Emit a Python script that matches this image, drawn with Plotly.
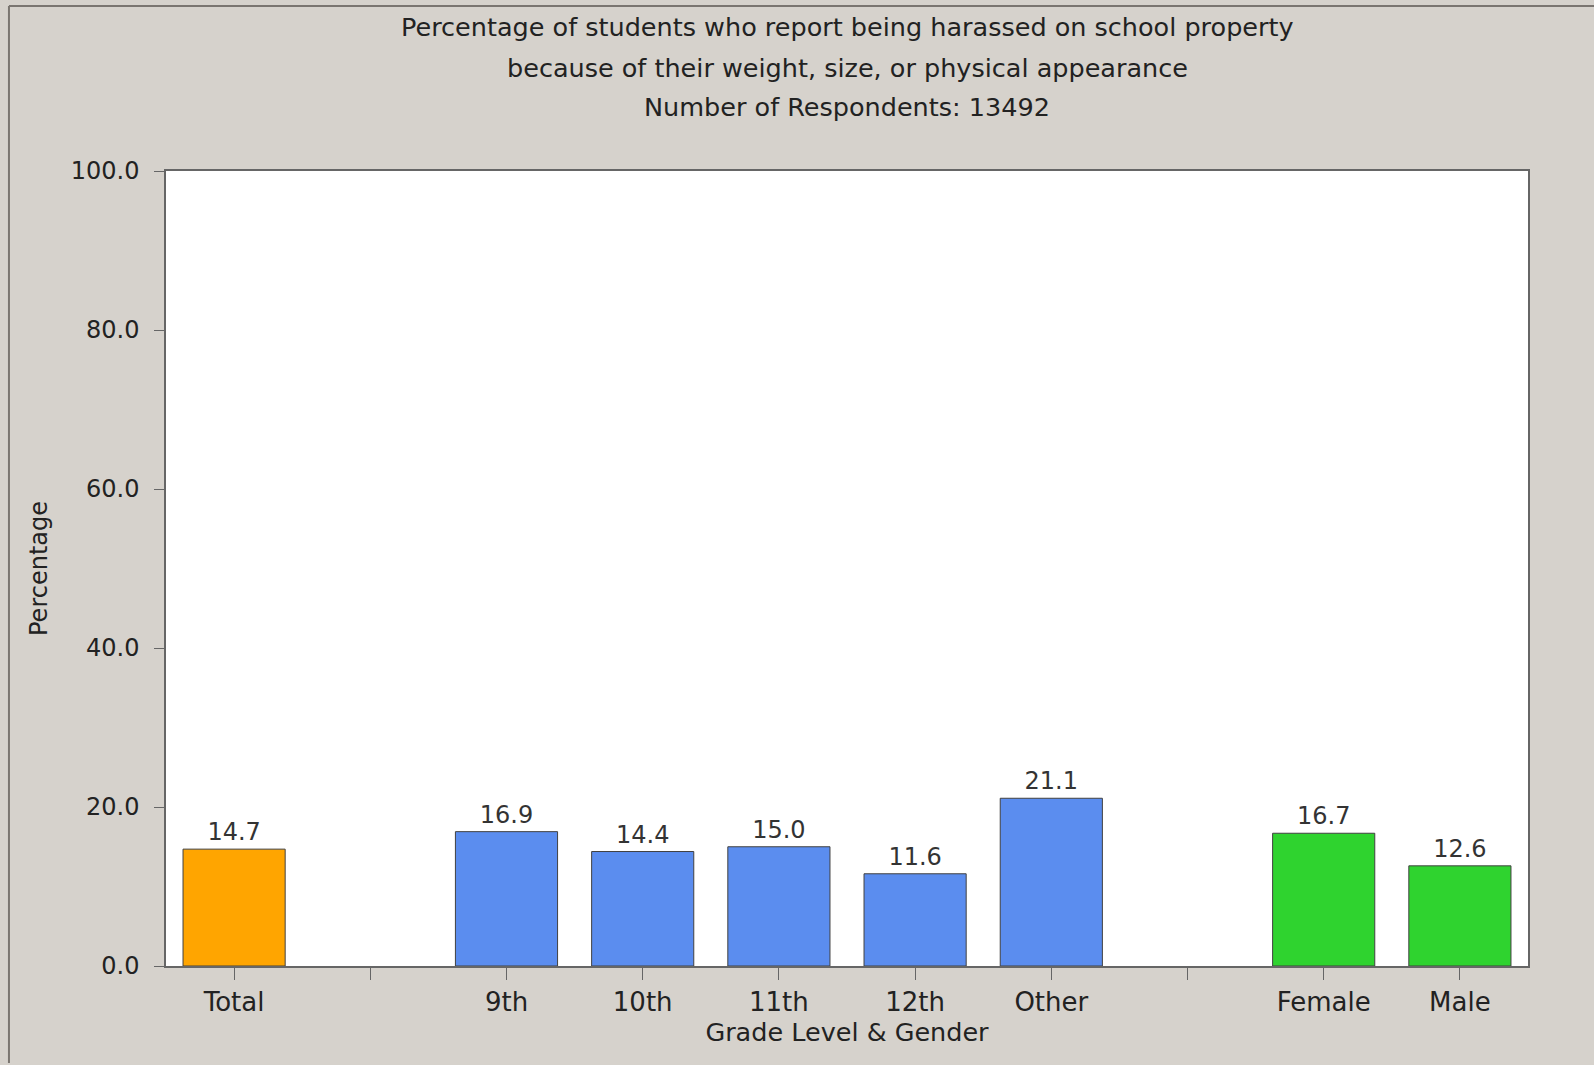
import plotly.graph_objects as go

# Data
slots = ["Total", " ", "9th", "10th", "11th", "12th", "Other", "  ", "Female", "Male"]
values = [14.7, None, 16.9, 14.4, 15.0, 11.6, 21.1, None, 16.7, 12.6]
groups = ["total", None, "grade", "grade", "grade", "grade", "grade", None, "gender", "gender"]
group_colors = {"total": "#FFA500", "grade": "#5B8DEF", "gender": "#2FD32F", None: "rgba(0,0,0,0)"}
y_ticks = [0, 20, 40, 60, 80, 100]

title_lines = [
    "Percentage of students who report being harassed on school property",
    "because of their weight, size, or physical appearance",
    "Number of Respondents: 13492",
]
# vertical placement of title lines, in paper units above the plot area
title_line_y = [1.181, 1.1296, 1.0805]

FONT = "DejaVu Sans, Liberation Sans, Arial, sans-serif"
BG = "#D6D2CC"
TXT = "#222222"

fig = go.Figure(
    go.Bar(
        x=slots,
        y=values,
        marker=dict(color=[group_colors[g] for g in groups],
                    line=dict(color="#404040", width=1)),
        text=[("%.1f" % v) if v is not None else "" for v in values],
        textposition="outside",
        textfont=dict(family=FONT, size=24, color="#333333"),
        cliponaxis=False,
        hoverinfo="x+y",
    )
)

fig.update_layout(
    width=1594,
    height=1065,
    paper_bgcolor=BG,
    plot_bgcolor="#FFFFFF",
    margin=dict(l=166, r=66, t=171, b=99),
    bargap=0.25,
    showlegend=False,
    font=dict(family=FONT, color=TXT),
)

for line, yy in zip(title_lines, title_line_y):
    fig.add_annotation(
        text=line, xref="paper", yref="paper", x=0.5, y=yy,
        xanchor="center", yanchor="middle", showarrow=False,
        font=dict(family=FONT, size=25.5, color=TXT),
    )

fig.update_xaxes(
    type="category",
    categoryorder="array",
    categoryarray=slots,
    showline=True, linecolor="#666666", linewidth=1.5, mirror=True,
    ticks="outside", ticklen=12, tickcolor="#666666", tickwidth=1,
    tickfont=dict(family=FONT, size=26, color=TXT),
    title=dict(text="Grade Level & Gender", standoff=6,
               font=dict(family=FONT, size=25.5, color=TXT)),
    showgrid=False,
)

fig.update_yaxes(
    range=[0, 100],
    tickvals=y_ticks,
    tickformat=".1f",
    showline=True, linecolor="#666666", linewidth=1.5, mirror=True,
    ticks="outside", ticklen=10, tickcolor="#666666", tickwidth=1,
    ticklabelstandoff=10,
    tickfont=dict(family=FONT, size=24, color=TXT),
    title=dict(text="Percentage", standoff=16,
               font=dict(family=FONT, size=24, color=TXT)),
    showgrid=False, zeroline=False,
)

# outer frame lines (top and left edges of the graphic)
fig.add_shape(type="line", xref="paper", yref="paper",
              x0=-0.1153, x1=1.06, y0=1.2075, y1=1.2075,
              line=dict(color="#7A7570", width=2))
fig.add_shape(type="line", xref="paper", yref="paper",
              x0=-0.1153, x1=-0.1153, y0=1.2075, y1=-0.122,
              line=dict(color="#7A7570", width=2))

fig.write_html("out.html", config={"displayModeBar": False},
               post_script="document.body.style.margin='0px';")
